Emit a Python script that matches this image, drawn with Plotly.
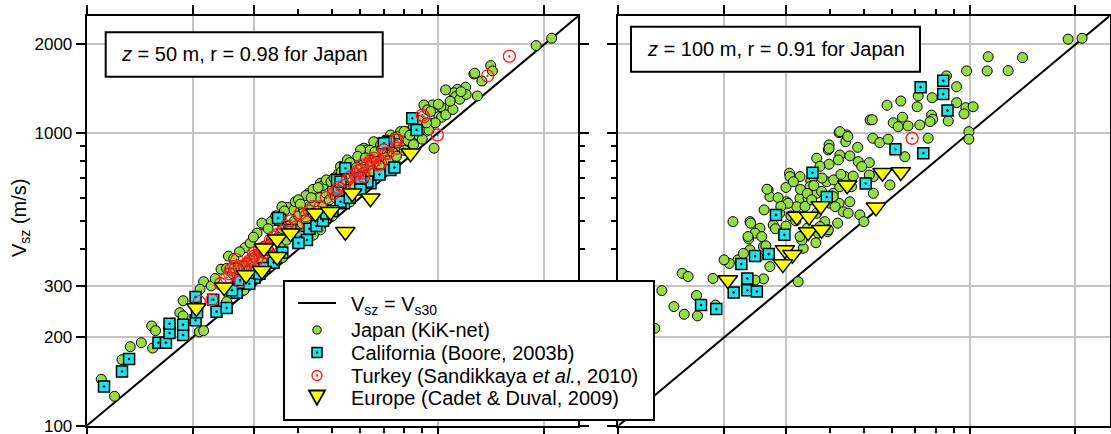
import plotly.graph_objects as go

# ---------------- data: (Vs30, Vsz) in m/s ----------------
# Left panel, z = 50 m
japan_50 = [
    (110,144),(120,126),(126,168),(133,186),(143,192),(153,219),(154,184),(157,211),(188,267),(184,243),
    (188,237),(209,209),(215,211),(215,310),(210,292),(241,342),(253,379),(282,405),(305,454),(319,484),
    (340,504),(372,556),(388,545),(250,344),(256,344),(315,491),(335,498),(359,559),(392,581),(428,621),
    (462,672),(515,708),(520,724),(614,885),(663,920),(462,466),(441,447),
    (1262,1585),(1291,1334),(1196,1429),(1133,1406),(1107,1368),(1049,1399),(1072,1227),(1016,1227),
    (962,1243),(910,1243),(1004,1134),(962,1076),(920,1008),(972,885),(871,982),(816,1008),(781,1008),
    (764,968),(731,982),(655,931),(628,873),(601,873),(601,818),(575,786),(551,807),(527,766),(708,944),
    (685,908),(747,885),(798,908),(772,873),
    (2100,2100),(1897,1982),(1409,1693),(1425,1624),(1269,1595),(1022,1129),(1120,1327),(931,1196),
    (260,330),(270,345),(275,320),(285,360),(290,340),(300,375),(300,350),(310,390),(315,365),(320,410),
    (330,395),(335,430),(340,380),(350,440),(355,415),(360,470),(370,430),(375,480),(380,455),(390,500),
    (395,470),(400,520),(410,490),(415,540),(420,505),(430,560),(440,530),(445,580),(450,510),(460,600),
    (470,560),(480,620),(490,590),(500,640),(510,600),(520,660),(530,620),(540,680),(550,640),(560,700),
    (575,660),(590,720),(600,690),(610,750),(625,720),(640,780),(650,740),(665,800),(680,770),(700,830),
    (720,800),(740,860),(760,830),(780,900),(800,870),(820,940),(850,910),(880,980),(900,950),(940,1020),
    (980,1080),(1050,1150),(1100,1200),(250,265),(280,290),(360,375),(420,430),(500,520),(560,580),
    (420,610),(440,640),(470,660),(480,690),(540,760),(560,790),(590,830),(640,870),(700,930),(750,960),
    (800,1010),(850,1050),(880,1100),(950,1180),(1000,1250),(1150,1300),(1200,1350),
    (226,300),(232,318),(262,372),(272,392),(292,420),(298,440),(328,470),(345,520),(365,540),(400,590),
    (405,570),(435,600),(455,650),(495,680),(505,700),(530,735),(545,720),(585,760),(620,820),(660,860),
    (690,880),(730,900),(760,920),(830,980),(870,1020),(925,1080),(1080,1280),(1160,1380),(1330,1500),
]
california_50 = [
    (112,136),(126,153),(132,169),(160,192),(168,192),(172,207),(172,223),(188,204),(188,221),(204,229),
    (206,244),(204,275),(234,245),(250,252),(267,284),(229,269),(270,306),(355,504),(350,511),(380,465),
    (405,441),(515,689),(521,637),(539,574),(731,746),(641,672),(423,430),(259,290),(273,314),(843,1120),
    (867,1021),(750,760),(723,931),(628,680),(527,680),(544,756),(527,581),(700,920),
    (300,320),(320,345),(340,360),(360,390),(400,420),(430,470),(450,480),(470,500),(480,530),(500,540),
    (560,600),(600,640),(680,720),(600,700),(290,305),(310,330),
]
turkey_50 = [
    (209,265),(227,269),(240,305),(256,340),(267,368),(298,388),(333,430),(396,478),(405,531),(462,559),
    (504,621),(551,689),(601,746),(641,807),(700,873),(685,786),(614,708),(910,1134),(994,982),(764,944),
    (764,885),(655,818),(607,776),(614,727),(562,708),(515,637),(677,776),(1592,1823),(1380,1562),(900,1148),
    (755,944),(708,851),(262,349),(273,310),
    (280,350),(290,365),(310,400),(320,390),(340,440),(350,450),(360,460),(370,480),(380,500),(420,520),
    (430,540),(440,560),(480,600),(520,650),(540,660),(580,720),(590,740),(630,780),(650,790),(720,850),
    (250,320),(255,330),(265,345),(275,350),(285,355),(295,370),(300,380),(305,370),(315,395),(325,405),
    (335,415),
]
europe_50 = [
    (205,252),(246,297),(284,327),(315,338),(319,403),(348,433),(348,377),(380,454),(447,531),(493,537),
    (544,459),(569,621),(641,597),(834,851),
]

# Right panel, z = 100 m
japan_100 = [
    (1906,2084),(2089,2099),(1129,1816),(1414,1803),(980,1624),(1122,1624),(1287,1628),(859,1562),(918,1435),
    (782,1316),(714,1334),(918,1266),(975,1217),(1023,1226),(964,1159),(637,1282),(582,1240),(709,1226),
    (779,1148),(785,1111),(721,1062),(771,1090),(644,1129),(606,1081),(626,1048),(668,1054),(521,1105),
    (528,1107),(869,1096),(995,1008),(995,950),(762,957),(530,957),(555,925),(586,950),(425,1000),(447,982),
    (444,931),(398,908),(396,873),(480,891),(367,818),(427,839),(456,833),(423,807),(482,796),(518,790),
    (398,780),(493,766),(593,663),(532,708),(518,717),(307,727),(329,708),(353,684),(392,680),(442,708),
    (466,711),(509,675),(532,621),(461,654),(409,621),(367,621),(400,574),(425,574),(456,581),(329,597),
    (347,597),(301,581),(322,559),(267,637),(270,605),(260,545),(212,497),(237,497),(288,531),(367,531),
    (437,537),(451,531),(487,524),(304,574),(421,491),(394,459),(371,454),(365,421),(336,403),(333,430),
    (329,442),(238,491),(253,472),(245,454),(256,442),(235,434),(276,484),(259,408),(237,398),(270,349),
    (259,317),(245,314),(219,368),(207,358),(200,368),(186,318),(152,331),(158,323),(133,289),(144,255),
    (154,240),(167,278),(168,237),(189,258),(325,310),(500,497),(127,215),(265,641),(308,708),(234,442),
    (263,411),(227,387),(250,377),(427,654),(654,828),(375,768),(351,654),(379,630),(387,497),(345,472),
    (359,708),(414,559),(396,466),(375,478),(427,1008),(450,970),(398,883),(409,605),
    (330,640),(345,620),(360,660),(380,700),(410,690),(430,720),(300,650),(315,680),(285,600),(290,560),
    (340,560),(355,590),(310,520),(280,470),(300,480),(320,500),
]
california_100 = [
    (725,1429),(841,1502),(841,1355),(865,1189),(615,877),(738,851),(357,730),(506,670),(392,603),(281,524),
    (297,448),(245,379),(268,385),(224,356),(233,318),(233,290),(248,287),(213,285),(172,258),(190,250),
]
turkey_100 = [(686,957)]
europe_100 = [
    (565,730),(637,734),(448,661),(377,562),(541,556),(322,517),(349,517),(347,458),(298,398),(313,383),
    (294,356),(205,314),(379,466),
]

diag_vals = [100, 2500]
major_ticks = [100, 200, 300, 1000, 2000]
major_labels = ["100", "200", "300", "1000", "2000"]
minor_ticks = [400, 500, 600, 700, 800, 900]

panel_notes = ["<i>z</i> = 50 m, r = 0.98 for Japan", "<i>z</i> = 100 m, r = 0.91 for Japan"]
legend_names = ["V<sub>sz</sub> = V<sub>s30</sub>", "Japan (KiK-net)", "California (Boore, 2003b)",
                "Turkey (Sandikkaya <i>et al.</i>, 2010)", "Europe (Cadet &amp; Duval, 2009)"]

# ---------------- styling ----------------
W, H = 1111, 434
FONT = "Liberation Sans, Arial, sans-serif"
GREEN = "#96dc46"
CYAN = "#1ee3ec"
RED = "#ff1a1a"
YELLOW = "#ffff00"


def px_x(p):
    return p / W


def px_y(p):
    return (H - p) / H


x_dom = [[px_x(86.7), px_x(578.3)], [px_x(618.3), px_x(1109.5)]]
y_dom = [px_y(425.7), px_y(16)]
LOGMAX = 3.398

fig = go.Figure()


def unzip(pairs):
    return [p[0] for p in pairs], [p[1] for p in pairs]


panels = [
    ("x", "y", japan_50, california_50, turkey_50, europe_50),
    ("x2", "y2", japan_100, california_100, turkey_100, europe_100),
]

for xa, ya, jp, ca, tk, eu in panels:
    fig.add_trace(go.Scatter(x=diag_vals, y=diag_vals, mode="lines", xaxis=xa, yaxis=ya,
                             line=dict(color="black", width=2), showlegend=False))
    x, y = unzip(jp)
    fig.add_trace(go.Scatter(x=x, y=y, mode="markers", xaxis=xa, yaxis=ya, showlegend=False,
                             marker=dict(symbol="circle", size=10, color=GREEN,
                                         line=dict(color="black", width=1))))
    x, y = unzip(ca)
    fig.add_trace(go.Scatter(x=x, y=y, mode="markers", xaxis=xa, yaxis=ya, showlegend=False,
                             marker=dict(symbol="square-dot", size=11, color=CYAN,
                                         line=dict(color="black", width=1.5))))
    x, y = unzip(tk)
    fig.add_trace(go.Scatter(x=x, y=y, mode="markers", xaxis=xa, yaxis=ya, showlegend=False,
                             marker=dict(symbol="circle-open-dot", size=12, color=RED,
                                         line=dict(color=RED, width=1.3))))
    x, y = unzip(eu)
    fig.add_trace(go.Scatter(x=x, y=y, mode="markers", xaxis=xa, yaxis=ya, showlegend=False,
                             marker=dict(symbol="triangle-down", size=17, color=YELLOW,
                                         line=dict(color="black", width=1.5))))


def make_axis(domain, anchor, labels):
    return dict(
        type="log", range=[2, LOGMAX], domain=domain, anchor=anchor,
        showline=True, linecolor="black", linewidth=2, mirror="ticks",
        ticks="outside", ticklen=9, tickwidth=2, tickcolor="black",
        tickmode="array", tickvals=major_ticks, ticktext=major_labels,
        showticklabels=labels, tickfont=dict(family=FONT, size=17, color="black"),
        ticklabeloverflow="allow",
        showgrid=True, gridcolor="#c3c3c3", gridwidth=2, zeroline=False,
        minor=dict(tickmode="array", tickvals=minor_ticks, ticks="outside", ticklen=5,
                   tickwidth=2, tickcolor="black", showgrid=False),
        automargin=False, fixedrange=True,
    )


fig.update_layout(
    width=W, height=H,
    margin=dict(l=0, r=0, t=0, b=0),
    paper_bgcolor="white", plot_bgcolor="white",
    font=dict(family=FONT, color="black"),
    xaxis=make_axis(x_dom[0], "y", False),
    yaxis=make_axis(y_dom, "x", True),
    xaxis2=make_axis(x_dom[1], "y2", False),
    yaxis2=make_axis(y_dom, "x2", False),
    showlegend=False,
)

# note boxes
boxes = [(105.7, 382.7, 32.3, 76.7), (631, 920, 26.7, 71.7)]
for (x0, x1, y0, y1), txt in zip(boxes, panel_notes):
    fig.add_shape(type="rect", xref="paper", yref="paper", x0=px_x(x0), x1=px_x(x1),
                  y0=px_y(y1), y1=px_y(y0), line=dict(color="black", width=2),
                  fillcolor="white", layer="above")
    fig.add_annotation(xref="paper", yref="paper", x=px_x((x0 + x1) / 2), y=px_y((y0 + y1) / 2),
                       text=txt, showarrow=False, xanchor="center", yanchor="middle",
                       font=dict(family=FONT, size=20, color="black"))


# ---------------- key (drawn as a boxed legend) ----------------
def paper_rect(x0, x1, y0, y1, **kw):
    fig.add_shape(type="rect", xref="paper", yref="paper", x0=px_x(x0), x1=px_x(x1),
                  y0=px_y(y1), y1=px_y(y0), layer="above", **kw)


def paper_circle(cx, cy, r, **kw):
    fig.add_shape(type="circle", xref="paper", yref="paper", x0=px_x(cx - r), x1=px_x(cx + r),
                  y0=px_y(cy + r), y1=px_y(cy - r), layer="above", **kw)


paper_rect(284, 654, 281, 420, line=dict(color="black", width=2), fillcolor="white")
sym_x = 317
row_y = [303, 330, 352.5, 375.5, 397.5]
text_x = 349
# line sample
fig.add_shape(type="line", xref="paper", yref="paper", x0=px_x(298), x1=px_x(336),
              y0=px_y(row_y[0]), y1=px_y(row_y[0]), line=dict(color="black", width=2), layer="above")
# Japan
paper_circle(sym_x, row_y[1], 4.2, fillcolor=GREEN, line=dict(color="black", width=1))
# California
paper_rect(sym_x - 5, sym_x + 5, row_y[2] - 5, row_y[2] + 5, fillcolor=CYAN,
           line=dict(color="black", width=1.5))
paper_circle(sym_x, row_y[2], 0.9, fillcolor="black", line=dict(color="black", width=0.5))
# Turkey
paper_circle(sym_x, row_y[3], 5, fillcolor="rgba(0,0,0,0)", line=dict(color=RED, width=1.3))
paper_circle(sym_x, row_y[3], 0.9, fillcolor=RED, line=dict(color=RED, width=0.5))
# Europe
tri = "M {:.5f},{:.5f} L {:.5f},{:.5f} L {:.5f},{:.5f} Z".format(
    px_x(sym_x - 8), px_y(row_y[4] - 7), px_x(sym_x + 8), px_y(row_y[4] - 7),
    px_x(sym_x), px_y(row_y[4] + 7.5))
fig.add_shape(type="path", xref="paper", yref="paper", path=tri, fillcolor=YELLOW,
              line=dict(color="black", width=1.8), layer="above")

for name, ry in zip(legend_names, row_y):
    fig.add_annotation(xref="paper", yref="paper", x=px_x(text_x), y=px_y(ry + (2 if "sub" in name else 0)),
                       text=name, showarrow=False, xanchor="left", yanchor="middle",
                       font=dict(family=FONT, size=20, color="black"))

# y-axis title
fig.add_annotation(xref="paper", yref="paper", x=px_x(21), y=px_y(218),
                   text="V<sub>sz</sub> (m/s)", textangle=-90, showarrow=False,
                   xanchor="center", yanchor="middle",
                   font=dict(family=FONT, size=20, color="black"))

fig.write_html("out.html", config={"displayModeBar": False},
               post_script="document.body.style.margin='0px';")
